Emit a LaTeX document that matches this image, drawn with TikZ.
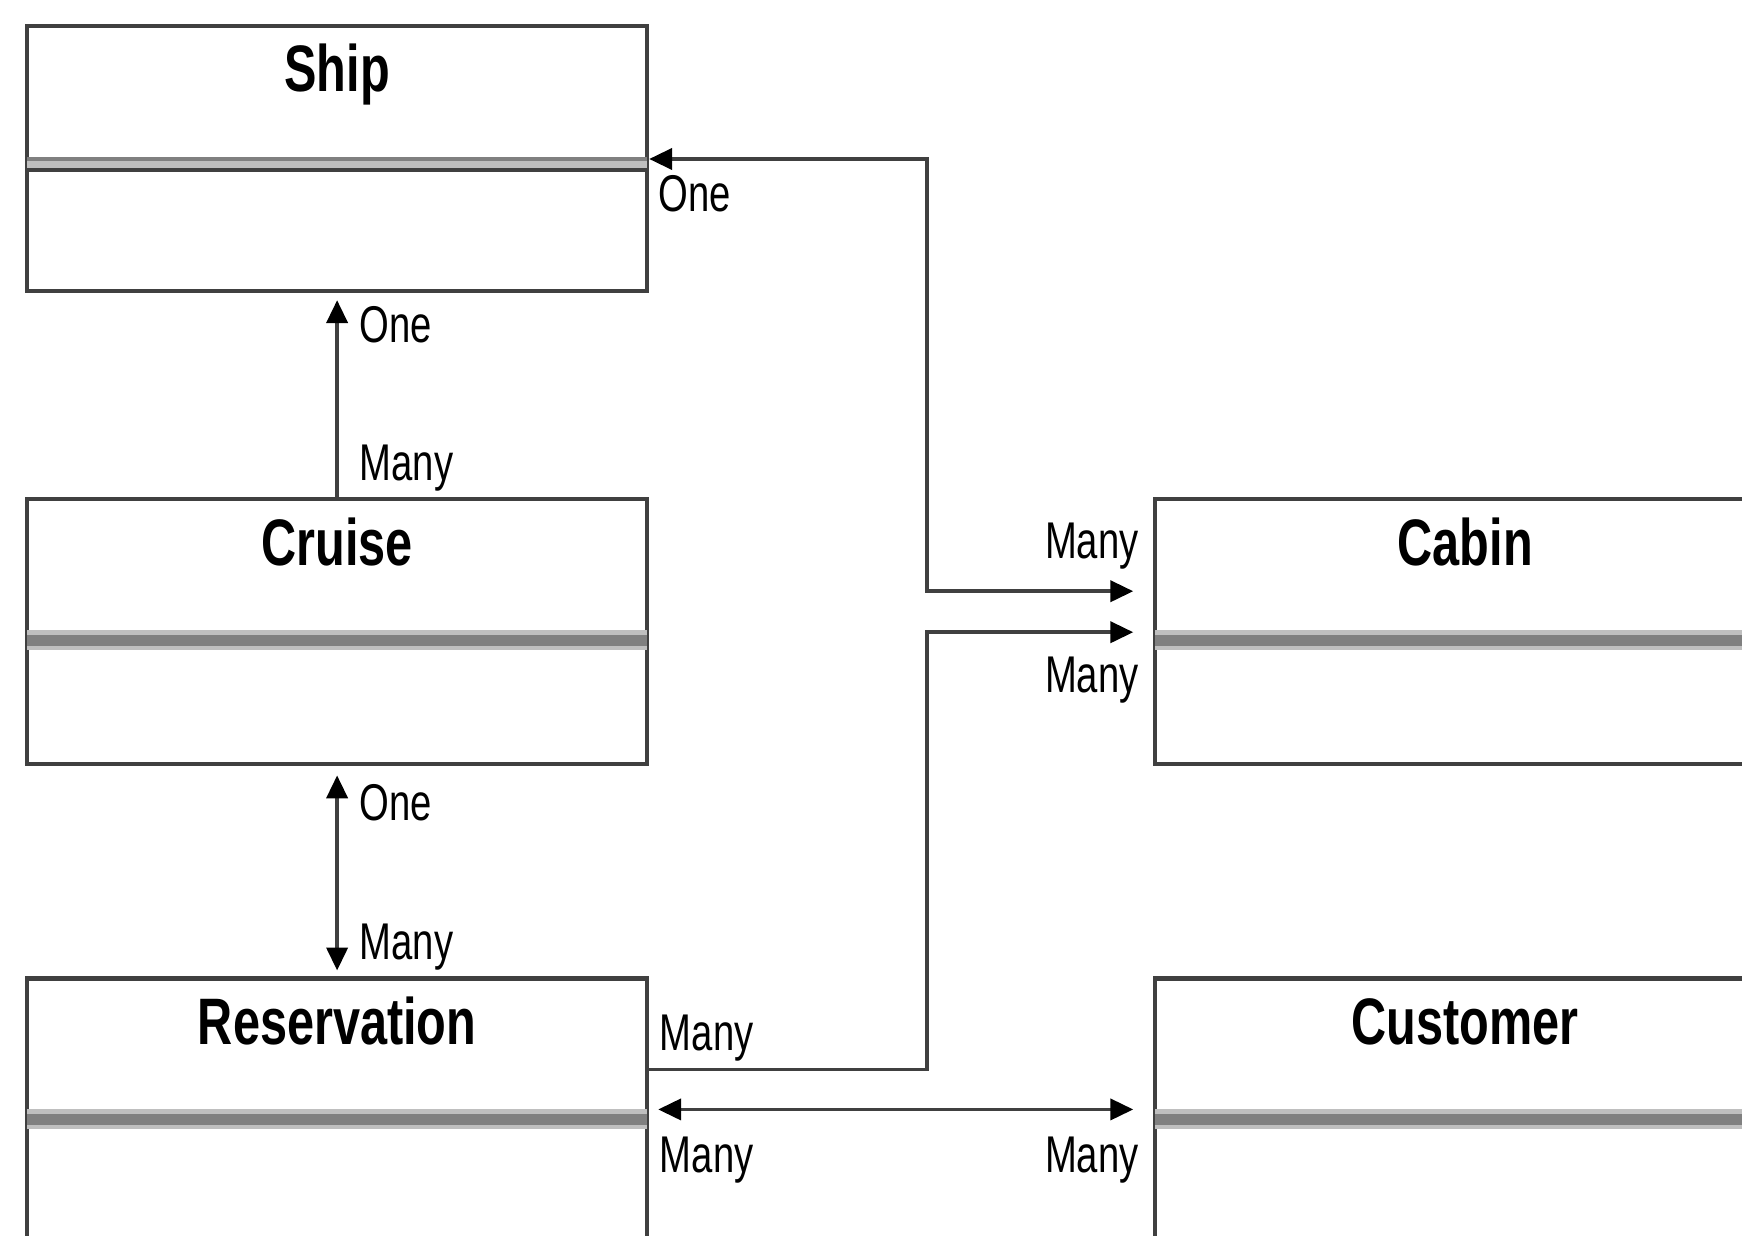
\documentclass[tikz,border=0pt]{standalone}
\usepackage{fontspec}
\setmainfont{Liberation Sans}[FakeStretch=0.74]
\usetikzlibrary{arrows.meta,positioning}
\tikzset{
  >={Triangle[length=6.5pt,width=6pt,color=black]},
  classbox/.style={draw=black!75,line width=1.2pt,minimum width=6.2cm,minimum height=2.65cm,inner sep=0pt},
  classname/.style={font=\fontsize{18.7}{20}\selectfont\bfseries,inner sep=0pt,anchor=base},
  mult/.style={font=\fontsize{14.7}{16}\selectfont,inner sep=0pt},
  sepband/.style={draw=black!25,line width=0.2cm,shorten <=0.6pt,shorten >=0.6pt},
  sepline/.style={draw=black!50,line width=0.11cm,shorten <=0.6pt,shorten >=0.6pt},
  assoc/.style={draw=black!75,line width=1pt},
}
\begin{document}
\begin{tikzpicture}
\useasboundingbox (0,0) rectangle (17.42,12.35);
\clip (0,0) rectangle (17.42,12.35);
% classes
\node[classbox,anchor=north west] (ship) at (0.25,12.11) {};
\node[classbox,below=2.04cm of ship] (cruise) {};
\node[classbox,below=2.10cm of cruise] (reservation) {};
\node[classbox,right=5.04cm of cruise] (cabin) {};
\node[classbox,right=5.04cm of reservation] (customer) {};
\node[classname] (shipname) at ([yshift=-0.68cm]ship.north) {Ship};
\node[classname] (cruisename) at ([yshift=-0.68cm]cruise.north) {Cruise};
\node[classname] (reservationname) at ([yshift=-0.68cm]reservation.north) {Reservation};
\node[classname] (cabinname) at ([yshift=-0.68cm]cabin.north) {Cabin};
\node[classname] (customername) at ([yshift=-0.68cm]customer.north) {Customer};
% separators
\draw[sepband,line width=0.15cm] ([yshift=-1.405cm]ship.north west) -- ([yshift=-1.405cm]ship.north east);
\draw[sepline,line width=0.04cm] ([yshift=-1.35cm]ship.north west) -- ([yshift=-1.35cm]ship.north east);
\draw[sepline,draw=black!75,line width=0.04cm] ([yshift=-1.46cm]ship.north west) -- ([yshift=-1.46cm]ship.north east);
\draw[sepband] ([yshift=-1.43cm]cruise.north west) -- ([yshift=-1.43cm]cruise.north east);
\draw[sepline] ([yshift=-1.43cm]cruise.north west) -- ([yshift=-1.43cm]cruise.north east);
\draw[sepband] ([yshift=-1.43cm]reservation.north west) -- ([yshift=-1.43cm]reservation.north east);
\draw[sepline] ([yshift=-1.43cm]reservation.north west) -- ([yshift=-1.43cm]reservation.north east);
\draw[sepband] ([yshift=-1.43cm]cabin.north west) -- ([yshift=-1.43cm]cabin.north east);
\draw[sepline] ([yshift=-1.43cm]cabin.north west) -- ([yshift=-1.43cm]cabin.north east);
\draw[sepband] ([yshift=-1.43cm]customer.north west) -- ([yshift=-1.43cm]customer.north east);
\draw[sepline] ([yshift=-1.43cm]customer.north west) -- ([yshift=-1.43cm]customer.north east);
% associations
\draw[assoc,->] (cruise.north) -- ([yshift=-0.07cm]ship.south);
\draw[assoc,<->] ([yshift=-0.09cm]cruise.south) -- ([yshift=0.06cm]reservation.north);
\draw[assoc,<->] ([yshift=-1.35cm]ship.north east) -| ([xshift=-2.26cm,yshift=-0.94cm]cabin.north west) -- ([xshift=-0.2cm,yshift=-0.94cm]cabin.north west);
\draw[assoc,->] ([yshift=-0.93cm]reservation.north east) -| ([xshift=-2.26cm,yshift=-1.35cm]cabin.north west) -- ([xshift=-0.2cm,yshift=-1.35cm]cabin.north west);
\draw[assoc,<->] ([xshift=0.09cm,yshift=-1.33cm]reservation.north east) -- ([xshift=-0.2cm,yshift=-1.33cm]customer.north west);
% multiplicities
\node[mult,anchor=base west] (shipone) at ([shift={(0.22,-0.49)}]ship.south) {One};
\node[mult,anchor=base west] (cruisemany) at ([shift={(0.22,0.17)}]cruise.north) {Many};
\node[mult,anchor=base west] (cruiseone) at ([shift={(0.22,-0.54)}]cruise.south) {One};
\node[mult,anchor=base west] (resmany) at ([shift={(0.22,0.17)}]reservation.north) {Many};
\node[mult,anchor=base west] (shiponeb) at ([shift={(0.09,-1.88)}]ship.north east) {One};
\node[mult,anchor=base east] (cabinmanya) at ([shift={(-0.14,-0.61)}]cabin.north west) {Many};
\node[mult,anchor=base east] (cabinmanyb) at ([shift={(-0.14,-1.95)}]cabin.north west) {Many};
\node[mult,anchor=base west] (resmanya) at ([shift={(0.10,-0.74)}]reservation.north east) {Many};
\node[mult,anchor=base west] (resmanyb) at ([shift={(0.10,-1.96)}]reservation.north east) {Many};
\node[mult,anchor=base east] (custmany) at ([shift={(-0.14,-1.96)}]customer.north west) {Many};
\end{tikzpicture}
\end{document}
